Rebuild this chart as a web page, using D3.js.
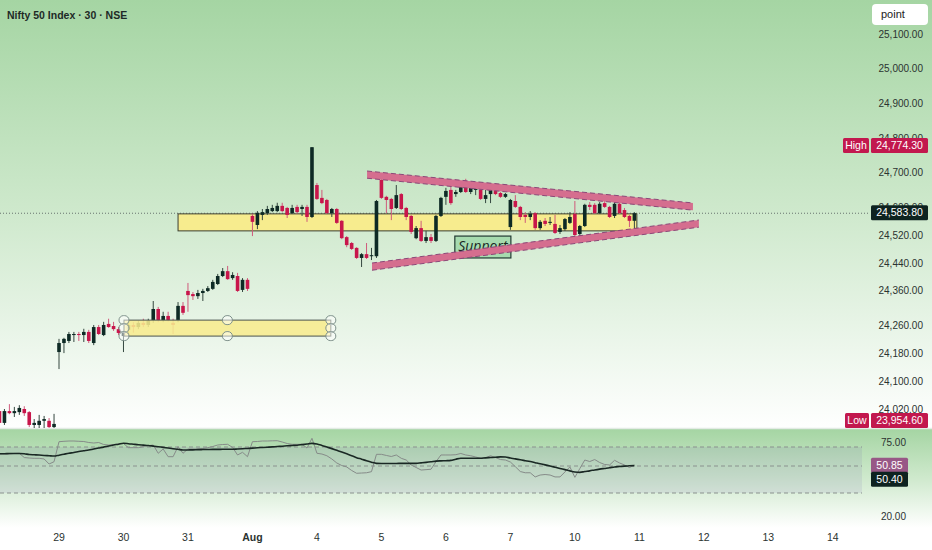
<!DOCTYPE html>
<html>
<head>
<meta charset="utf-8">
<script src="https://cdn.jsdelivr.net/npm/d3@7"></script>
<style>
  html, body { margin: 0; padding: 0; background: #fff; }
  svg { display: block; font-family: "Liberation Sans", Arial, sans-serif; }
</style>
</head>
<body>
<svg id="chart"></svg>
<script>
// session labels on the time axis, 13 half-hour bars per session
var dayLabels = ["29", "30", "31", "Aug", "4", "5", "6", "7", "10", "11", "12", "13", "14"];
var priceTicks = [25100, 25000, 24900, 24800, 24700, 24600, 24520, 24440, 24360, 24260, 24180, 24100, 24020];
var rsiTicks = [75, 20];
var rsiLevels = [70, 50, 30];

// bar index of the first candle, relative to the first bar of the "29" session
var firstBar = -12;

// open, high, low, close
var candles = [
  [24014, 24020, 23974, 23980], [23980, 24020, 23974, 24014], [24014, 24034, 24005, 24008], [24008, 24026, 23997, 24014],
  [24011, 24031, 24003, 24023], [24020, 24028, 24000, 24008], [24011, 24014, 23968, 23974], [23974, 23991, 23962, 23980],
  [23974, 24003, 23960, 23986], [23986, 24000, 23965, 23991], [23986, 23994, 23954.6, 23968], [23968, 24006, 23960, 23977],
  // 29
  [24184, 24222, 24135, 24210], [24210, 24225, 24181, 24222], [24216, 24242, 24210, 24236], [24233, 24242, 24213, 24236],
  [24236, 24242, 24216, 24233], [24233, 24251, 24213, 24242], [24242, 24248, 24210, 24216], [24210, 24262, 24204, 24256],
  [24256, 24262, 24233, 24236], [24233, 24271, 24230, 24262], [24265, 24280, 24254, 24256], [24259, 24271, 24245, 24250],
  [24250, 24256, 24233, 24239],
  // 30
  [24230, 24245, 24184, 24240], [24248, 24268, 24236, 24262], [24262, 24270, 24240, 24256], [24256, 24274, 24250, 24268],
  [24268, 24280, 24256, 24262], [24262, 24280, 24256, 24274], [24276, 24331, 24268, 24308], [24308, 24314, 24270, 24276],
  [24276, 24300, 24270, 24288], [24288, 24300, 24272, 24276], [24268, 24280, 24236, 24262], [24276, 24328, 24270, 24317],
  [24317, 24328, 24291, 24297],
  // 31
  [24360, 24383, 24300, 24348], [24351, 24357, 24334, 24345], [24345, 24363, 24337, 24354], [24354, 24366, 24331, 24360],
  [24360, 24374, 24357, 24368], [24366, 24392, 24363, 24386], [24380, 24409, 24377, 24403], [24403, 24426, 24400, 24417],
  [24417, 24432, 24392, 24394], [24397, 24414, 24392, 24406], [24403, 24412, 24357, 24360], [24363, 24397, 24357, 24392],
  [24392, 24397, 24360, 24366],
  // Aug 1
  [24576, 24582, 24518, 24559], [24550, 24590, 24538, 24585], [24579, 24596, 24564, 24587], [24584, 24605, 24579, 24596],
  [24590, 24608, 24587, 24599], [24590, 24614, 24587, 24605], [24605, 24614, 24587, 24590], [24599, 24602, 24570, 24579],
  [24584, 24608, 24582, 24599], [24602, 24608, 24582, 24587], [24596, 24608, 24576, 24602], [24602, 24608, 24559, 24573],
  [24573, 24774.3, 24570, 24774],
  // 4
  [24665, 24671, 24622, 24625], [24628, 24651, 24610, 24613], [24622, 24625, 24582, 24584], [24584, 24599, 24573, 24596],
  [24596, 24599, 24553, 24556], [24562, 24564, 24509, 24512], [24515, 24518, 24486, 24492], [24498, 24501, 24478, 24481],
  [24484, 24486, 24452, 24455], [24455, 24469, 24429, 24466], [24466, 24498, 24452, 24455], [24460, 24484, 24449, 24463],
  [24460, 24622, 24455, 24619],
  // 5
  [24680, 24683, 24625, 24628], [24631, 24634, 24584, 24622], [24625, 24628, 24564, 24596], [24599, 24665, 24596, 24636],
  [24639, 24642, 24593, 24596], [24599, 24602, 24564, 24573], [24576, 24579, 24524, 24530], [24512, 24547, 24509, 24541],
  [24541, 24562, 24501, 24504], [24504, 24533, 24498, 24515], [24515, 24524, 24498, 24504], [24504, 24579, 24501, 24576],
  [24576, 24631, 24573, 24628],
  // 6
  [24631, 24657, 24608, 24648], [24651, 24671, 24608, 24613], [24639, 24651, 24631, 24645], [24645, 24674, 24642, 24668],
  [24668, 24683, 24642, 24645], [24645, 24674, 24639, 24657], [24651, 24674, 24636, 24654], [24651, 24657, 24622, 24625],
  [24625, 24651, 24613, 24636], [24639, 24663, 24613, 24657], [24657, 24665, 24636, 24639], [24642, 24645, 24628, 24631],
  [24631, 24642, 24628, 24639],
  // 7
  [24544, 24625, 24536, 24622], [24619, 24636, 24599, 24602], [24602, 24605, 24564, 24573], [24579, 24587, 24556, 24573],
  [24573, 24590, 24564, 24582], [24584, 24587, 24536, 24541], [24541, 24564, 24536, 24559], [24562, 24570, 24547, 24553],
  [24556, 24573, 24550, 24559], [24553, 24579, 24524, 24527], [24530, 24550, 24524, 24541], [24538, 24570, 24533, 24567],
  [24556, 24587, 24553, 24573],
  // last session
  [24582, 24619, 24515, 24521], [24524, 24550, 24518, 24547], [24547, 24611, 24544, 24608], [24608, 24616, 24593, 24602],
  [24608, 24613, 24582, 24584], [24584, 24616, 24582, 24611], [24613, 24622, 24599, 24602], [24602, 24605, 24570, 24573],
  [24576, 24616, 24570, 24611], [24611, 24616, 24582, 24584], [24593, 24599, 24570, 24573], [24576, 24579, 24544, 24562],
  [24562, 24587, 24536, 24583.8]
];

var rsi = [
  62.6, 62.6, 62.6, 63.2, 63.4, 58.9, 58.4, 58.1, 58.1, 57.4, 52.1, 54.5,
  75.3, 75.7, 76, 76, 75.7, 75.5, 74.5, 74, 74.5, 72.5, 72, 72.5, 73,
  73.5, 69.3, 69.3, 69.3, 70.5, 71.3, 72, 63.4, 67.9, 59.8, 59.8, 70.3, 63.4,
  67.9, 67.9, 67.9, 68.4, 69.3, 70.5, 72, 72.5, 72.7, 69.5, 61.6, 64.4, 59.8,
  75.3, 75.5, 76, 76, 76.2, 76.3, 75, 73.5, 72.7, 72.7, 72.7, 68.9, 78.7,
  63.4, 62.6, 60.8, 57.4, 53.2, 50.5, 49.3, 46.7, 44.6, 44.8, 45, 45.8, 62.3,
  62.3, 61.1, 60, 61.6, 58.1, 56.3, 51.1, 48.9, 47, 47.3, 47.6, 54.5, 61.6,
  61.6, 61.6, 61.9, 63.2, 61.6, 60.8, 59.5, 58.1, 58.7, 60.8, 58.9, 56.8, 56.3,
  54.2, 49.5, 45.9, 45, 45, 41.9, 43.3, 43.7, 43.3, 41.9, 41.9, 45.6, 49.3,
  41.6, 48.1, 56.3, 54.7, 56.8, 53.7, 51.6, 51.1, 56, 53.2, 51.1, 48.9, 50.85
];

var rsiMa = [
  62.9, 62.9, 63.1, 63.1, 63.2, 62.9, 62.1, 61.8, 61.5, 61.1, 60.8, 60.5,
  61.4, 62.4, 63.4, 64.2, 65.2, 66, 66.8, 67.9, 68.9, 69.9, 71, 72, 72.8,
  73.7, 73.3, 72.8, 72.3, 71.9, 71.5, 70.9, 70.3, 69.6, 68.9, 68.2, 67.6, 66.8,
  66.9, 67, 67.2, 67.3, 67.4, 67.5, 67.5, 67.6, 67.6, 67.6, 67.9, 68.2, 68.5,
  68.8, 69.2, 69.5, 69.8, 70.1, 70.5, 70.8, 71.2, 71.5, 71.8, 72.4, 73, 73.6,
  73, 71.6, 70, 68.3, 66.5, 64.7, 62.8, 60.9, 58.8, 57.2, 55.5, 54, 52.8,
  52.7, 52.7, 52.7, 52.7, 52.8, 52.8, 52.8, 52.8, 53.3, 53.8, 54.4, 55.1, 55.4,
  55.6, 55.9, 57.2, 58.1, 58.1, 58.1, 58.1, 58.2, 58.6, 58.9, 59.2, 59.6, 59.4,
  58.4, 57.5, 56.5, 55.6, 54.7, 53.5, 52.3, 51.2, 50, 49.1, 48.2, 47.3, 46.4,
  45.6, 45.3, 45.9, 46.4, 47.1, 47.7, 48.2, 48.7, 49.3, 49.6, 49.9, 50.2, 50.4
];

// drawings: [from bar, to bar, top price, bottom price]
var rangeZone = [24, 116.5, 24582, 24533];
var lowerZone = [13.1, 54.8, 24276, 24230];
var supportTag = [79.8, 91.1, 24518, 24455];
// trend lines: [bar, price] pairs
var upperTrend = [[62.1, 24695], [127.8, 24603]];
var lowerTrend = [[63.1, 24430], [129, 24554]];

var lastPrice = 24583.8, highPrice = 24774.3, lowPrice = 23954.6;

var width = 932, height = 550;
var svg = d3.select("#chart").attr("width", width).attr("height", height);

var x = d3.scaleLinear().domain([0, 156]).range([59, 832.8]);
var y = d3.scaleLinear().domain([24020, 25100]).range([409, 34]);
var yr = d3.scaleLinear().domain([20, 30, 50, 70, 75]).range([516, 493, 466, 447, 442]);
var fmt = d3.format(",.2f");

var defs = svg.append("defs");
function vgrad(id, y1, y2) {
  var gr = defs.append("linearGradient").attr("id", id)
    .attr("gradientUnits", "userSpaceOnUse").attr("x1", 0).attr("x2", 0).attr("y1", y1).attr("y2", y2);
  gr.append("stop").attr("offset", 0).attr("stop-color", "#a5d5a3");
  gr.append("stop").attr("offset", 0.5).attr("stop-color", "#cfe9cd");
  gr.append("stop").attr("offset", 1).attr("stop-color", "#ffffff");
}
vgrad("bgMain", 0, 430);
vgrad("bgRsi", 429, 528);
defs.append("clipPath").attr("id", "mainClip").append("rect")
  .attr("x", 0).attr("y", 0).attr("width", 870).attr("height", 428);
defs.append("clipPath").attr("id", "rsiClip").append("rect")
  .attr("x", 0).attr("y", 429).attr("width", 870).attr("height", 100);

svg.append("rect").attr("width", width).attr("height", height).attr("fill", "#fff");
svg.append("rect").attr("width", width).attr("height", 429).attr("fill", "url(#bgMain)");
svg.append("rect").attr("y", 429).attr("width", width).attr("height", 100).attr("fill", "url(#bgRsi)");
svg.append("line").attr("x1", 0).attr("x2", width).attr("y1", 428.5).attr("y2", 428.5)
  .attr("stroke", "#e4ebe5").attr("stroke-width", 1.5);

var main = svg.append("g").attr("clip-path", "url(#mainClip)");

// last price dotted line
main.append("line")
  .attr("x1", 0).attr("x2", 870).attr("y1", y(lastPrice)).attr("y2", y(lastPrice))
  .attr("stroke", "#68746f").attr("stroke-dasharray", "1,2");

function zoneRect(g, z) {
  return g.append("rect")
    .attr("x", x(z[0])).attr("y", y(z[2]))
    .attr("width", x(z[1]) - x(z[0])).attr("height", y(z[3]) - y(z[2]));
}

// yellow range box behind the candles
zoneRect(main, rangeZone).attr("fill", "#f7ec8e").attr("stroke", "#3b3d30").attr("stroke-width", 1);

// candles
var bw = 3.6;
var bars = main.append("g").selectAll("g").data(candles).join("g");
bars.append("line")
  .attr("x1", function (d, i) { return x(i + firstBar); })
  .attr("x2", function (d, i) { return x(i + firstBar); })
  .attr("y1", function (d) { return y(d[1]); })
  .attr("y2", function (d) { return y(d[2]); })
  .attr("stroke", function (d) { return d[3] >= d[0] ? "#34473f" : "#cf5a7b"; })
  .attr("stroke-width", 1);
bars.append("rect")
  .attr("x", function (d, i) { return x(i + firstBar) - bw / 2; })
  .attr("width", bw)
  .attr("y", function (d) { return y(Math.max(d[0], d[3])); })
  .attr("height", function (d) { return Math.max(1, Math.abs(y(d[0]) - y(d[3]))); })
  .attr("fill", function (d) { return d[3] >= d[0] ? "#0e2a25" : "#c8164b"; });

// selected lower box sits on top of the candles
zoneRect(main, lowerZone).attr("fill", "#f7ec8e").attr("fill-opacity", 0.88)
  .attr("stroke", "#4a544f").attr("stroke-width", 1);
var hx = [lowerZone[0], (lowerZone[0] + lowerZone[1]) / 2, lowerZone[1]];
var handles = [];
hx.forEach(function (b, j) {
  handles.push([b, lowerZone[2]]);
  if (j !== 1) handles.push([b, (lowerZone[2] + lowerZone[3]) / 2]);
  handles.push([b, lowerZone[3]]);
});
main.selectAll("rect.handle").data(handles).join("rect").attr("class", "handle")
  .attr("x", function (d) { return x(d[0]) - 5; })
  .attr("y", function (d) { return y(d[1]) - 4.5; })
  .attr("width", 10).attr("height", 9).attr("rx", 4.5)
  .attr("fill", "rgba(255,255,255,0.5)").attr("stroke", "#7d908a").attr("stroke-width", 1);

// support tag
zoneRect(main, supportTag).attr("fill", "#a6dbaf").attr("stroke", "#223a33").attr("stroke-width", 1.2);
main.append("text")
  .attr("x", (x(supportTag[0]) + x(supportTag[1])) / 2)
  .attr("y", (y(supportTag[2]) + y(supportTag[3])) / 2 + 4)
  .attr("text-anchor", "middle")
  .attr("font-family", "'Open Sans', sans-serif").attr("font-style", "italic")
  .attr("font-size", 14).attr("fill", "#16261f")
  .text("Support");

// triangle trend bands
[upperTrend, lowerTrend].forEach(function (t) {
  var ax = x(t[0][0]), ay = y(t[0][1]), bx = x(t[1][0]), by = y(t[1][1]), h = 3.6;
  main.append("polygon")
    .attr("points", [[ax, ay - h], [bx, by - h], [bx, by + h], [ax, ay + h]].join(" "))
    .attr("fill", "#d56e8f");
  [-h, h].forEach(function (o) {
    main.append("line").attr("x1", ax).attr("y1", ay + o).attr("x2", bx).attr("y2", by + o)
      .attr("stroke", "#8c4878").attr("stroke-width", 1).attr("stroke-dasharray", "5,3");
  });
});

// RSI pane
var rsiG = svg.append("g").attr("clip-path", "url(#rsiClip)");
rsiG.append("rect")
  .attr("x", 0).attr("width", 862)
  .attr("y", yr(70)).attr("height", yr(30) - yr(70))
  .attr("fill", "rgba(110,95,170,0.11)");
rsiG.selectAll("line.level").data(rsiLevels).join("line").attr("class", "level")
  .attr("x1", 0).attr("x2", 862)
  .attr("y1", function (d) { return yr(d); }).attr("y2", function (d) { return yr(d); })
  .attr("stroke", "#8a918e").attr("stroke-dasharray", "4,3").attr("stroke-width", 1);

var rsiLine = d3.line()
  .x(function (d, i) { return x(i + firstBar); })
  .y(function (d) { return yr(d); });
rsiG.append("path").datum(rsi).attr("d", rsiLine)
  .attr("fill", "none").attr("stroke", "#868b89").attr("stroke-width", 1);
rsiG.append("path").datum(rsiMa).attr("d", rsiLine.curve(d3.curveMonotoneX))
  .attr("fill", "none").attr("stroke", "#1a2824").attr("stroke-width", 1.6);

// title
svg.append("text").attr("x", 7).attr("y", 19)
  .attr("font-size", 10.5).attr("font-weight", "bold").attr("fill", "#1e2a27")
  .text("Nifty 50 Index \u00b7 30 \u00b7 NSE");

// price axis labels
svg.append("g").selectAll("text").data(priceTicks).join("text")
  .attr("x", 923).attr("y", function (d) { return y(d) + 3.5; })
  .attr("text-anchor", "end").attr("font-size", 10).attr("fill", "#2b3330")
  .text(function (d) { return fmt(d); });
svg.append("g").selectAll("text").data(rsiTicks).join("text")
  .attr("x", 906).attr("y", function (d) { return yr(d) + 3.5; })
  .attr("text-anchor", "end").attr("font-size", 10).attr("fill", "#2b3330")
  .text(function (d) { return fmt(d); });

// time axis labels
svg.append("g").selectAll("text").data(dayLabels).join("text")
  .attr("x", function (d, i) { return x(i * 13); }).attr("y", 541)
  .attr("text-anchor", "middle").attr("font-size", 10.5).attr("fill", "#2b3330")
  .attr("font-weight", function (d) { return d === "Aug" ? "bold" : null; })
  .text(function (d) { return d; });

// price tags
function tag(cx, cy, w, fill, txt) {
  svg.append("rect").attr("x", cx).attr("y", cy - 7.5).attr("width", w).attr("height", 15)
    .attr("rx", 1.5).attr("fill", fill);
  svg.append("text").attr("x", cx + w / 2).attr("y", cy + 3.5).attr("text-anchor", "middle")
    .attr("font-size", 10.5).attr("fill", "#fff").text(txt);
}
var hy = y(highPrice) - 1.5;
tag(843, hy, 26, "#c2184e", "High");
tag(871, hy, 57, "#c2184e", fmt(highPrice));
var ly = Math.min(y(lowPrice), 420.5);
tag(845, ly, 24, "#c2184e", "Low");
tag(871, ly, 57, "#c2184e", fmt(lowPrice));
tag(871, y(lastPrice) - 0.5, 57, "#0e2320", fmt(lastPrice));

var r1 = yr(rsi[rsi.length - 1]);
var r2 = Math.max(yr(rsiMa[rsiMa.length - 1]), r1 + 14);
tag(871, r1, 37, "#985886", d3.format(".2f")(rsi[rsi.length - 1]));
tag(871, r2, 37, "#0e2320", d3.format(".2f")(rsiMa[rsiMa.length - 1]));

// toolbar button
svg.append("rect").attr("x", 872).attr("y", 4).attr("width", 56).attr("height", 21).attr("rx", 4)
  .attr("fill", "#fff");
svg.append("text").attr("x", 881).attr("y", 18).attr("font-size", 11).attr("fill", "#222").text("point");
</script>
</body>
</html>
